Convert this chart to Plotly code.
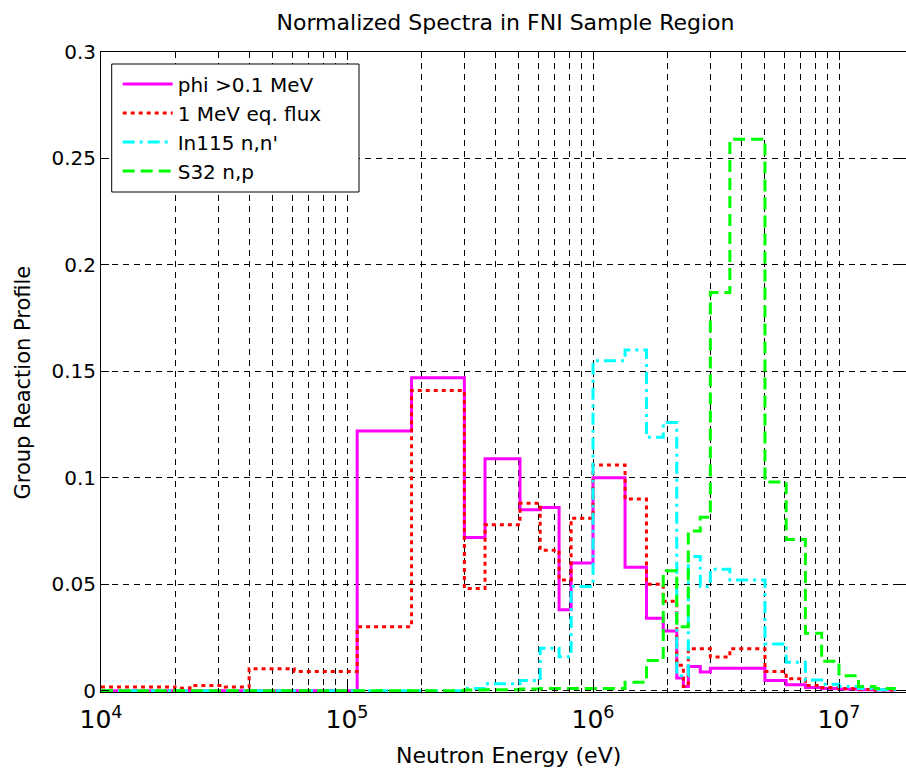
import plotly.graph_objects as go

# Group boundaries (eV) shared by all four profiles
energy_edges = [1e4, 2e4, 2.3e4, 3.2e4, 4e4, 6.1e4, 1.1e5, 1.83e5, 3e5, 3.64e5,
                5.05e5, 6.1e5, 7.28e5, 8.15e5, 1e6, 1.35e6, 1.65e6, 1.93e6,
                2.19e6, 2.33e6, 2.44e6, 2.73e6, 3e6, 3.6e6, 5e6, 6.1e6, 7.3e6,
                8.5e6, 1e7, 1.2e7, 1.4e7, 1.7e7]

# Group values (one per energy group)
phi_01 = [0, 0, 0, 0, 0, 0, 0.122, 0.147, 0.072, 0.109,
          0.085, 0.086, 0.038, 0.060, 0.100, 0.058, 0.034, 0.028,
          0.006, 0.002, 0.0114, 0.0088, 0.0106, 0.0106, 0.0048, 0.0028, 0.0015,
          0.001, 0.0008, 0.0005, 0.0003]
flux_1mev = [0.0017, 0.0012, 0.0024, 0.0017, 0.0103, 0.009, 0.030, 0.141, 0.048, 0.078,
             0.088, 0.066, 0.052, 0.081, 0.106, 0.090, 0.050, 0.042,
             0.012, 0.002, 0.0197, 0.0197, 0.0158, 0.0197, 0.009, 0.0056, 0.0025,
             0.0015, 0.001, 0.0006, 0.0003]
in115 = [0, 0, 0, 0, 0, 0, 0, 0, 0.001, 0.0033,
         0.0048, 0.020, 0.016, 0.049, 0.155, 0.160, 0.119, 0.126,
         0.007, 0.007, 0.063, 0.049, 0.057, 0.052, 0.022, 0.0134, 0.005,
         0.003, 0.002, 0.001, 0.0005]
s32 = [0, 0, 0, 0, 0, 0, 0, 0, 0.0003, 0.0005,
       0.0008, 0.001, 0.001, 0.001, 0.001, 0.004, 0.0142, 0.0564,
       0.030, 0.030, 0.075, 0.0815, 0.187, 0.259, 0.098, 0.071, 0.027,
       0.0139, 0.007, 0.002, 0.001]

series_names = ["phi >0.1 MeV", "1 MeV eq. flux", "In115 n,n'", "S32 n,p"]
y_ticks = [0, 0.05, 0.1, 0.15, 0.2, 0.25, 0.3]
y_tick_labels = ["0", "0.05", "0.1", "0.15", "0.2", "0.25", "0.3"]

styles = [
    dict(color="#ff00ff", width=3, dash="solid"),
    dict(color="#ff0000", width=3, dash="4px,4px"),
    dict(color="#00ffff", width=3, dash="12px,5px,3px,5px"),
    dict(color="#00ff00", width=3, dash="12px,6px"),
]

fig = go.Figure()
for name, vals, st in zip(series_names, [phi_01, flux_1mev, in115, s32], styles):
    fig.add_trace(go.Scatter(
        x=energy_edges, y=vals + [vals[-1]], name=name, mode="lines",
        line=dict(shape="hv", **st),
    ))

FONT = "DejaVu Sans, Liberation Sans, sans-serif"
W, H = 906, 769
L, R, T, B = 101, 0, 52, 77
pw, ph = W - L - R, H - T - B


def px_x(x):
    return (x - L) / pw


def px_y(y):
    return (H - B - y) / ph


grid_dash = "6px,5px"
fig.update_layout(
    width=W, height=H,
    margin=dict(l=L, r=R, t=T, b=B),
    paper_bgcolor="white", plot_bgcolor="white",
    font=dict(family=FONT, size=21, color="black"),
    title=dict(text="Normalized Spectra in FNI Sample Region",
               x=px_x(505.5), xref="paper", xanchor="center",
               y=1 - 22 / H, yref="container", yanchor="middle",
               font=dict(family=FONT, size=22, color="black")),
    showlegend=True,
    legend=dict(x=px_x(117.7), y=px_y(64.5), xanchor="left", yanchor="top",
                bgcolor="rgba(0,0,0,0)", borderwidth=0, itemwidth=50,
                font=dict(family=FONT, size=20, color="black")),
    xaxis=dict(type="log", range=[4, 4 + pw / 246.0],
               dtick=1, exponentformat="power", showexponent="all",
               showline=True, linecolor="black", linewidth=1, mirror="ticks",
               ticks="inside", ticklen=8, tickcolor="black", ticklabelstandoff=6,
               showgrid=True, gridcolor="black", gridwidth=1, griddash=grid_dash,
               minor=dict(dtick="D1", ticks="inside", ticklen=4, tickcolor="black",
                          showgrid=True, gridcolor="black", gridwidth=1, griddash=grid_dash),
               zeroline=False, tickfont=dict(family=FONT, size=20)),
    yaxis=dict(range=[-0.0006, 0.3], tickvals=y_ticks, ticktext=y_tick_labels,
               showline=True, linecolor="black", linewidth=1, mirror="ticks",
               ticks="inside", ticklen=8, tickcolor="black",
               showgrid=True, gridcolor="black", gridwidth=1, griddash=grid_dash,
               zeroline=False, tickfont=dict(family=FONT, size=20)),
)

# Legend frame: white box covering the grid behind the legend entries
fig.add_shape(type="rect", xref="paper", yref="paper", layer="above",
              x0=px_x(111.7), x1=px_x(359), y0=px_y(192), y1=px_y(64),
              fillcolor="white", line=dict(color="black", width=1))

fig.add_annotation(text="Neutron Energy (eV)", xref="paper", yref="paper",
                   x=px_x(508.5), y=px_y(755),
                   xanchor="center", yanchor="middle", showarrow=False,
                   font=dict(family=FONT, size=22, color="black"))
fig.add_annotation(text="Group Reaction Profile", xref="paper", yref="paper",
                   x=px_x(22), y=px_y(382.5), textangle=-90,
                   xanchor="center", yanchor="middle", showarrow=False,
                   font=dict(family=FONT, size=21, color="black"))

fig.write_html("out.html")
